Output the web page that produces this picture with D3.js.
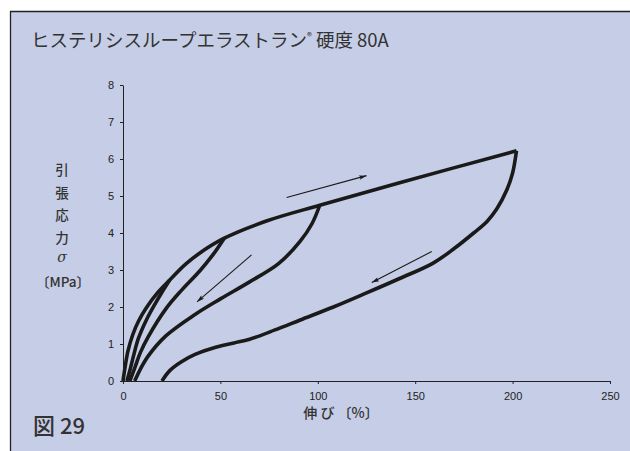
<!DOCTYPE html>
<html>
<head>
<meta charset="utf-8">
<script src="https://cdn.jsdelivr.net/npm/d3@7"></script>
<style>
  body { margin: 0; background: #fff; }
  svg { display: block; }
  .tick text { font-family: "Liberation Sans", Arial, sans-serif; font-size: 11px; fill: #222; }
  .jp { font-family: "Noto Sans CJK JP", sans-serif; fill: #333; }
</style>
</head>
<body>
<div id="chart"></div>
<script>
// strain [%], stress [MPa]
const loading = [[0, 0], [1, 0.35], [2.5, 0.8], [5, 1.25], [8, 1.62], [12, 1.98], [18, 2.4], [24, 2.73], [32, 3.15], [40, 3.48], [52, 3.86], [74, 4.33], [101, 4.75], [142, 5.36], [202, 6.22]];
const unload25 = [[2, 0], [3.6, 0.3], [5.5, 0.7], [7.9, 1.15], [12, 1.65], [16.4, 2.08], [20, 2.4], [24, 2.73]];
const unload50 = [[3.5, 0], [6, 0.35], [9, 0.78], [13, 1.2], [22, 1.95], [30, 2.45], [39.5, 2.98], [46, 3.4], [52, 3.86]];
const unload100 = [[6, 0], [9, 0.33], [13, 0.68], [22, 1.22], [37, 1.8], [50, 2.22], [65, 2.68], [80, 3.18], [91, 3.78], [97, 4.25], [101, 4.75]];
const unload200 = [[20, 0], [24, 0.28], [30, 0.52], [37, 0.72], [48, 0.92], [57, 1.03], [65, 1.13], [78, 1.38], [91, 1.65], [108, 2.0], [125, 2.38], [142, 2.77], [159, 3.18], [170, 3.58], [180, 4.0], [187, 4.32], [192, 4.66], [197, 5.16], [200, 5.62], [202, 6.22]];
const arrows = [
  { from: [84, 4.96], to: [125, 5.55] },
  { from: [66, 3.41], to: [38, 2.14] },
  { from: [158.5, 3.5], to: [127.7, 2.66] },
];
const xTicks = [0, 50, 100, 150, 200, 250];
const yTicks = [0, 1, 2, 3, 4, 5, 6, 7, 8];

const W = 630, H = 451;
const svg = d3.select("#chart").append("svg").attr("width", W).attr("height", H);

// panel
svg.append("rect").attr("x", 10).attr("y", 11).attr("width", W - 10).attr("height", H - 11).attr("fill", "#c6cde6");
svg.append("path").attr("d", `M10.5,${H}V11.5H${W}`).attr("fill", "none").attr("stroke", "#222").attr("stroke-width", 1.3);

const x = d3.scaleLinear().domain([0, 250]).range([123, 610]);
const y = d3.scaleLinear().domain([0, 8]).range([381, 85]);

// axes
svg.append("g").attr("transform", "translate(0,381)")
  .call(d3.axisBottom(x).tickValues(xTicks).tickSize(3).tickSizeOuter(0).tickPadding(8))
  .call((g) => g.selectAll("line,path").attr("stroke", "#222"));
svg.append("g").attr("transform", "translate(123,0)")
  .call(d3.axisLeft(y).tickValues(yTicks).tickSize(3).tickSizeOuter(0).tickPadding(6))
  .call((g) => g.selectAll("line,path").attr("stroke", "#222"));

// curves
const line = d3.line().x((d) => x(d[0])).y((d) => y(d[1])).curve(d3.curveCatmullRom.alpha(0.5));
[loading, unload25, unload50, unload100, unload200].forEach((pts) => {
  svg.append("path").attr("d", line(pts)).attr("fill", "none")
    .attr("stroke", "#1a1a1a").attr("stroke-width", 3.6).attr("stroke-linejoin", "round");
});

// arrows
svg.append("defs").append("marker").attr("id", "head")
  .attr("viewBox", "0 0 10 6").attr("refX", 10).attr("refY", 3)
  .attr("markerWidth", 11).attr("markerHeight", 4.5).attr("markerUnits", "userSpaceOnUse")
  .attr("orient", "auto")
  .append("path").attr("d", "M0,0L10,3L0,6L2,3Z").attr("fill", "#1a1a1a");
arrows.forEach((a) => {
  svg.append("line")
    .attr("x1", x(a.from[0])).attr("y1", y(a.from[1]))
    .attr("x2", x(a.to[0])).attr("y2", y(a.to[1]))
    .attr("stroke", "#1a1a1a").attr("stroke-width", 1.1)
    .attr("marker-end", "url(#head)");
});

// title
const title = svg.append("text").attr("class", "jp").attr("x", 31).attr("y", 47).style("font-size", "18.5px");
title.append("tspan").text("ヒステリシスループエラストラン");
title.append("tspan").attr("dy", -7).style("font-size", "10px").text("®");
title.append("tspan").attr("dy", 7).text(" 硬度 80A");

// y label
const yl = ["引", "張", "応", "力"];
yl.forEach((c, i) => {
  svg.append("text").attr("class", "jp").attr("x", 62).attr("y", 175 + i * 22.6)
    .attr("text-anchor", "middle").style("font-size", "13.5px").style("font-weight", 500).text(c);
});
svg.append("text").attr("class", "jp").attr("x", 62).attr("y", 262)
  .attr("text-anchor", "middle").style("font-size", "14px").style("font-style", "italic")
  .style("font-family", "'DejaVu Serif', serif").text("σ");
svg.append("text").attr("class", "jp").attr("x", 63).attr("y", 287)
  .attr("text-anchor", "middle").style("font-size", "13.5px").style("font-weight", 500).text("〔MPa〕");

// x label
svg.append("text").attr("class", "jp").attr("x", 341).attr("y", 418)
  .attr("text-anchor", "middle").style("font-size", "14px").style("font-weight", 500).text("伸 び 〔%〕");

// figure number
svg.append("text").attr("class", "jp").attr("x", 33).attr("y", 434)
  .style("font-size", "22px").style("font-weight", 500).text("図 29");
</script>
</body>
</html>
